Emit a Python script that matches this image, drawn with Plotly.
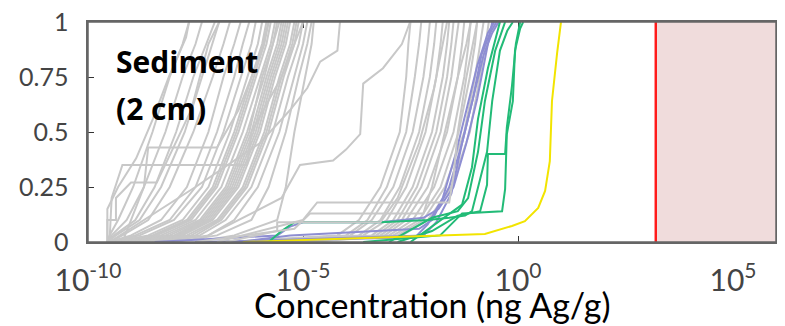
import plotly.graph_objects as go

# ---------------- data (log10 of concentration, ng Ag/g) ----------------
# shared cumulative-probability grid for the smooth grey curves
GRAY_Y = [0.0, 0.03, 0.1, 0.25, 0.5, 0.75, 0.9, 1.0]

GRAY_LEFT = [
    [-9.55, -9.50, -9.30, -8.95, -8.50, -8.10, -7.80, -7.65],
    [-9.55, -9.45, -9.10, -8.70, -8.20, -7.80, -7.50, -7.35],
    [-9.55, -9.40, -8.90, -8.45, -7.95, -7.55, -7.25, -7.05],
    [-9.55, -9.35, -8.80, -8.30, -7.75, -7.35, -7.10, -6.95],
    [-9.50, -9.20, -8.60, -8.10, -7.55, -7.10, -6.85, -6.70],
]

GRAY_MAIN = [
    [-9.50, -9.00, -8.30, -7.70, -7.20, -6.85, -6.60, -6.45],
    [-9.50, -8.90, -8.10, -7.50, -7.00, -6.60, -6.40, -6.25],
    [-9.45, -8.80, -8.00, -7.35, -6.85, -6.45, -6.20, -6.10],
    [-9.40, -8.60, -7.80, -7.20, -6.70, -6.30, -6.05, -5.95],
    [-9.40, -8.50, -7.70, -7.10, -6.60, -6.20, -5.95, -5.85],
    [-9.35, -8.45, -7.65, -7.05, -6.55, -6.15, -5.90, -5.80],
    [-9.30, -8.40, -7.60, -7.00, -6.50, -6.10, -5.85, -5.75],
    [-9.30, -8.30, -7.50, -6.90, -6.40, -6.00, -5.75, -5.65],
    [-9.20, -8.20, -7.40, -6.80, -6.30, -5.90, -5.70, -5.60],
    [-9.20, -8.10, -7.35, -6.75, -6.25, -5.95, -5.70, -5.55],
    [-9.10, -8.00, -7.30, -6.70, -6.20, -5.85, -5.60, -5.50],
    [-9.05, -7.95, -7.25, -6.65, -6.15, -5.80, -5.55, -5.45],
    [-9.00, -7.90, -7.20, -6.60, -6.10, -5.75, -5.50, -5.40],
    [-9.00, -7.85, -7.15, -6.55, -6.05, -5.70, -5.45, -5.35],
    [-8.90, -7.80, -7.10, -6.50, -6.00, -5.65, -5.40, -5.30],
    [-8.80, -7.70, -7.00, -6.40, -5.90, -5.55, -5.30, -5.20],
    [-8.70, -7.60, -6.95, -6.35, -5.85, -5.50, -5.25, -5.15],
    [-8.60, -7.50, -6.90, -6.30, -5.80, -5.45, -5.20, -5.10],
    [-8.50, -7.40, -6.80, -6.20, -5.70, -5.35, -5.10, -5.00],
    [-8.30, -7.20, -6.60, -6.05, -5.55, -5.20, -5.00, -4.90],
    [-8.00, -7.00, -6.20, -5.80, -5.40, -5.10, -4.90, -4.80],
    [-7.50, -6.60, -5.60, -5.40, -5.20, -4.95, -4.80, -4.75],
]

# grey curves of the right-hand group
GRAY_RIGHT = [
    [-6.80, -4.20, -3.70, -3.20, -2.75, -2.60, -2.55, -2.50],
    [-6.50, -4.00, -3.50, -3.05, -2.60, -2.40, -2.30, -2.25],
    [-6.20, -3.90, -3.40, -2.90, -2.45, -2.20, -2.10, -2.05],
    [-6.00, -3.70, -3.20, -2.75, -2.30, -2.05, -1.95, -1.90],
    [-5.80, -3.60, -3.05, -2.60, -2.15, -1.90, -1.80, -1.75],
    [-5.60, -3.40, -2.90, -2.45, -2.00, -1.75, -1.65, -1.60],
    [-5.50, -3.30, -2.80, -2.35, -1.90, -1.65, -1.55, -1.50],
    [-5.40, -3.20, -2.70, -2.25, -1.80, -1.55, -1.45, -1.38],
    [-5.30, -3.10, -2.60, -2.10, -1.65, -1.40, -1.30, -1.25],
    [-5.20, -3.00, -2.45, -1.95, -1.50, -1.25, -1.15, -1.10],
    [-5.10, -2.90, -2.30, -1.80, -1.38, -1.12, -1.00, -0.95],
    [-5.00, -2.80, -2.20, -1.70, -1.25, -1.00, -0.88, -0.80],
    [-4.90, -2.70, -2.10, -1.55, -1.12, -0.88, -0.75, -0.68],
]

# grey curves with long flat low-probability tails
TAIL_X = [
    [-7.00, -5.00, -4.67, -1.60, -1.50, -1.40, -1.20, -1.05, -0.95],
    [-7.50, -5.20, -4.83, -2.20, -2.00, -1.70, -1.40, -1.20, -1.10],
    [-6.80, -5.60, -5.60, -3.20, -2.80, -2.30, -1.95, -1.75, -1.65],
]
TAIL_Y = [
    [0.0, 0.10, 0.18, 0.18, 0.30, 0.50, 0.75, 0.90, 1.0],
    [0.0, 0.06, 0.13, 0.13, 0.25, 0.50, 0.75, 0.90, 1.0],
    [0.0, 0.05, 0.09, 0.09, 0.20, 0.45, 0.70, 0.90, 1.0],
]

# grey step curves with sparse samples
STEP_X = [
    [-9.55, -9.55, -9.30, -8.88, -8.49, -8.12, -7.72, -7.65],
    [-9.50, -9.45, -9.20, -6.30, -6.20, -5.50, -5.00],
    [-9.20, -8.70, -8.60, -7.00, -6.50, -6.00, -5.80],
    [-7.50, -5.50, -5.07, -4.30, -4.00, -3.67, -3.60, -3.14, -2.70, -2.51],
    [-9.50, -7.50, -6.00, -5.30, -4.90, -4.60, -4.20, -4.14],
    [-9.55, -9.55, -9.35, -9.35, -9.00, -8.40, -7.60, -7.20, -6.95],
]
STEP_Y = [
    [0.0, 0.15, 0.25, 0.38, 0.56, 0.75, 0.93, 1.0],
    [0.0, 0.20, 0.35, 0.35, 0.50, 0.75, 1.0],
    [0.0, 0.25, 0.43, 0.43, 0.60, 0.85, 1.0],
    [0.0, 0.20, 0.35, 0.37, 0.42, 0.49, 0.72, 0.79, 0.90, 1.0],
    [0.0, 0.25, 0.45, 0.60, 0.70, 0.82, 0.87, 1.0],
    [0.0, 0.10, 0.10, 0.20, 0.27, 0.27, 0.60, 0.90, 1.0],
]

# purple curves
PURPLE_X = [
    [-8.45, -5.60, -5.30, -5.00, -3.20, -2.20, -1.85, -1.50, -1.20, -0.95, -0.75, -0.60],
    [-6.50, -5.30, -2.30, -2.00, -1.60, -1.30, -1.05, -0.85, -0.65, -0.50],
    [-7.50, -2.40, -2.10, -1.75, -1.45, -1.20, -0.95, -0.70, -0.55],
    [-7.00, -2.20, -1.90, -1.55, -1.30, -1.05, -0.80, -0.60, -0.45],
]
PURPLE_Y = [
    [0.0, 0.03, 0.07, 0.09, 0.09, 0.11, 0.15, 0.25, 0.45, 0.65, 0.85, 1.0],
    [0.0, 0.03, 0.06, 0.10, 0.25, 0.45, 0.65, 0.85, 0.95, 1.0],
    [0.0, 0.02, 0.08, 0.20, 0.40, 0.60, 0.80, 0.95, 1.0],
    [0.0, 0.03, 0.09, 0.22, 0.45, 0.65, 0.85, 0.95, 1.0],
]

# green curves
GREEN_X = [
    [-3.60, -1.81, -1.30, -0.37, -0.30, -0.26, -0.12, -0.07, 0.05, 0.12],
    [-2.80, -2.00, -1.40, -0.88, -0.72, -0.70, -0.30, -0.26, -0.14, -0.05, 0.05],
    [-6.30, -5.80, -5.50, -5.20, -3.20, -2.10, -1.60, -1.23, -1.07, -0.95, -0.72, -0.60, -0.42, -0.25, -0.12],
    [-3.00, -2.00, -1.40, -1.16, -0.93, -0.77, -0.53, -0.35, -0.30],
    [-2.50, -1.93, -1.30, -1.07, -0.93, -0.70, -0.50, -0.42],
]
GREEN_Y = [
    [0.0, 0.03, 0.13, 0.14, 0.24, 0.49, 0.64, 0.87, 0.97, 1.0],
    [0.0, 0.05, 0.12, 0.14, 0.26, 0.40, 0.40, 0.52, 0.71, 0.90, 1.0],
    [0.0, 0.0, 0.05, 0.09, 0.09, 0.10, 0.11, 0.12, 0.14, 0.23, 0.41, 0.64, 0.87, 0.96, 1.0],
    [0.0, 0.11, 0.14, 0.20, 0.41, 0.64, 0.87, 0.97, 1.0],
    [0.0, 0.08, 0.17, 0.34, 0.56, 0.79, 0.95, 1.0],
]

# yellow curve
YELLOW_X = [-6.40, -2.16, -0.77, -0.14, 0.16, 0.47, 0.63, 0.74, 0.79, 0.91, 1.00]
YELLOW_Y = [0.0, 0.026, 0.036, 0.073, 0.095, 0.155, 0.232, 0.368, 0.64, 0.86, 1.0]

THRESHOLD = 1600.0          # red line (ng Ag/g)
X_MIN, X_MAX = 1e-10, 1e6

X_TICKS = [1e-10, 1e-5, 1, 1e5]
X_TICK_TEXT = ["10<sup>-10</sup>", "10<sup>-5</sup>", "10<sup>0</sup>", "10<sup>5</sup>"]
Y_TICKS = [0, 0.25, 0.5, 0.75, 1]
Y_TICK_TEXT = ["0", "0.25", "0.5", "0.75", "1"]
X_TITLE = "Concentration (ng Ag/g)"

# ---------------- colours ----------------
C_GRAY = "#c8c8c8"
C_PURPLE = "#8e8ed2"
C_GREEN = "#22bb77"
C_YELLOW = "#f2e400"
C_RED = "#ff1a1a"
C_PINK = "#f0dcdc"
C_AXIS = "#666666"

fig = go.Figure()

def to_conc(logs):
    return [10 ** v for v in logs]

def add_curve(xs_log, ys, color):
    fig.add_trace(go.Scatter(x=to_conc(xs_log), y=ys, mode="lines",
                             line=dict(color=color, width=2),
                             hoverinfo="skip", showlegend=False))

# pink region beyond threshold
fig.add_trace(go.Scatter(x=[THRESHOLD, X_MAX, X_MAX, THRESHOLD, THRESHOLD],
                         y=[0, 0, 1, 1, 0], mode="lines", fill="toself",
                         fillcolor=C_PINK, line=dict(width=0, color=C_PINK),
                         hoverinfo="skip", showlegend=False))

for c in GRAY_LEFT + GRAY_MAIN:
    add_curve(c, GRAY_Y, C_GRAY)
for xs, ys in zip(STEP_X, STEP_Y):
    add_curve(xs, ys, C_GRAY)
for c in GRAY_RIGHT:
    add_curve(c, GRAY_Y, C_GRAY)
for xs, ys in zip(PURPLE_X, PURPLE_Y):
    add_curve(xs, ys, C_PURPLE)
for xs, ys in zip(GREEN_X, GREEN_Y):
    add_curve(xs, ys, C_GREEN)
for xs, ys in zip(TAIL_X, TAIL_Y):
    add_curve(xs, ys, C_GRAY)
add_curve(YELLOW_X, YELLOW_Y, C_YELLOW)

# red threshold line
fig.add_trace(go.Scatter(x=[THRESHOLD, THRESHOLD], y=[0, 1], mode="lines",
                         line=dict(color=C_RED, width=2.5),
                         hoverinfo="skip", showlegend=False))

# frame around the plotting area
fig.add_shape(type="rect", xref="paper", yref="paper", x0=0, y0=0, x1=1, y1=1,
              line=dict(color=C_AXIS, width=1.5), fillcolor="rgba(0,0,0,0)",
              layer="above")

FONT = "Lato"
LABEL_FONT = dict(family="Open Sans", size=30, color="#000000")
fig.add_annotation(text="<b>Sediment</b>", xref="paper", yref="paper",
                   x=0.038, y=0.82, xanchor="left", yanchor="middle",
                   showarrow=False, font=LABEL_FONT)
fig.add_annotation(text="<b>(2 cm)</b>", xref="paper", yref="paper",
                   x=0.038, y=0.605, xanchor="left", yanchor="middle",
                   showarrow=False, font=LABEL_FONT)
# x-axis title
fig.add_annotation(text=X_TITLE, xref="paper", yref="paper",
                   x=0.5, y=-0.285, xanchor="center", yanchor="middle",
                   showarrow=False,
                   font=dict(family=FONT, size=34, color="#000000"))

NBSP = "\u00a0"
# the page body adds an 8 px margin, so the figure is offset to compensate
fig.update_layout(
    width=769, height=318,
    margin=dict(l=80, r=1, t=14, b=84, autoexpand=False),
    paper_bgcolor="white", plot_bgcolor="white",
    font=dict(family=FONT, color="#444444"),
    xaxis=dict(type="log", range=[-10, 6], tickvals=X_TICKS, ticktext=X_TICK_TEXT,
               ticks="inside", ticklen=6, tickcolor="#333333", mirror="ticks",
               showline=True, linecolor=C_AXIS, linewidth=1.5,
               showgrid=False, zeroline=False, layer="below traces",
               automargin=False, ticklabelstandoff=11, ticklabeloverflow="allow",
               tickfont=dict(size=30, color="#444444")),
    yaxis=dict(range=[0, 1], tickvals=Y_TICKS,
               ticktext=[t + NBSP + NBSP for t in Y_TICK_TEXT],
               ticks="inside", ticklen=6, tickcolor="#333333", mirror="ticks",
               showline=True, linecolor=C_AXIS, linewidth=1.5,
               showgrid=False, zeroline=False, layer="below traces",
               automargin=False, ticklabeloverflow="allow",
               tickfont=dict(size=25, color="#444444")),
)

fig.write_html("out.html")
